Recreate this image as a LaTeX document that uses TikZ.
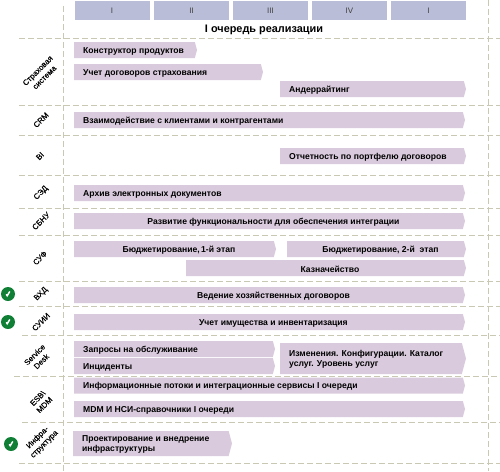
\documentclass[tikz,border=0pt]{standalone}
\usepackage{fontspec}
\setmainfont{Liberation Sans}
\newfontfamily\sysfont[FakeBold=0.5]{Liberation Sans}
\usetikzlibrary{shapes.symbols}
\definecolor{barcol}{HTML}{D9CBDD}
\definecolor{headcol}{HTML}{BABDD7}
\definecolor{dashcol}{HTML}{C9C9B3}
\definecolor{okcol}{HTML}{0F7F35}
\tikzset{
  headbox/.style={fill=headcol,minimum height=19pt,inner sep=0pt,font=\fontsize{8}{9}\selectfont,text=black!75},
  planbar/.style={fill=barcol,signal,signal to=east,signal pointer angle=150,anchor=west,inner ysep=0pt,inner xsep=0pt,outer sep=0pt},
  bartext/.style={inner sep=0pt,yshift=-1pt,font=\bfseries\fontsize{8.6}{10.5}\selectfont},
  sysname/.style={rotate=45,align=center,font=\sysfont\fontsize{7.8}{9.5}\selectfont},
  okmark/.style={circle,fill=okcol,minimum size=14pt,inner sep=0pt,path picture={
    \draw[white,line width=1.5pt,line cap=round] ([shift={(-1.6,0.6)}]path picture bounding box.center) -- ([shift={(-0.8,1.7)}]path picture bounding box.center) -- ([shift={(1.6,-2.2)}]path picture bounding box.center);}},
  gridline/.style={dashcol,line width=.8pt,dash pattern=on 6pt off 3pt}
}
% left aligned bar: #1 name, #2 left, #3 right, #4 middle, #5 height, #6 text
\newcommand{\leftbar}[6]{%
  \pgfmathsetmacro{\barw}{#3-#2}%
  \node[planbar,minimum width=\barw pt,minimum height=#5pt] (#1) at (#2,#4) {};
  \node[bartext,anchor=west,align=left] (#1t) at (#2+9,#4) {#6};}
% centred bar
\newcommand{\midbar}[6]{%
  \pgfmathsetmacro{\barw}{#3-#2}%
  \node[planbar,minimum width=\barw pt,minimum height=#5pt] (#1) at (#2,#4) {};
  \node[bartext,xshift=5pt] (#1t) at (#1.center) {#6};}
\begin{document}
\begin{tikzpicture}[x=1pt,y=-1pt]
  \useasboundingbox (0,0) rectangle (500,471);
  % сетка
  \foreach \yy/\xx in {38/19,105/19,135/19,175/19,208/19,235/19,281/19,306/19,335/22,376/14,422/22,463/19}
    \draw[gridline] (\xx,\yy) -- (500,\yy);
  \draw[gridline] (63,6) -- (63,471);
  \draw[gridline] (488,0) -- (488,471);

  % кварталы
  \node[headbox,minimum width=75pt] (q1) at (112,10.5) {I};
  \node[headbox,minimum width=75pt] (q2) at (191.5,10.5) {II};
  \node[headbox,minimum width=75pt] (q3) at (270.5,10.5) {III};
  \node[headbox,minimum width=75pt] (q4) at (349.5,10.5) {IV};
  \node[headbox,minimum width=75pt] (q5) at (428.5,10.5) {I};
  \node[font=\bfseries\fontsize{10.9}{12}\selectfont] (title) at (264,29.5) {I очередь реализации};

  % системы
  \node[sysname] (sys1) at (41,74) {Страховая\\система};
  \node[sysname] (sys2) at (41,120) {CRM};
  \node[sysname] (sys3) at (40,156) {BI};
  \node[sysname] (sys4) at (41,193) {СЭД};
  \node[sysname] (sys5) at (41,221) {СБНУ};
  \node[sysname] (sys6) at (40,258) {СУФ};
  \node[sysname] (sys7) at (41,294) {ВХД};
  \node[sysname] (sys8) at (41,322) {СУИИ};
  \node[sysname] (sys9) at (38,358) {Service\\Desk};
  \node[sysname] (sys10) at (41,401.5) {ESB\textbackslash\\MDM};
  \node[sysname] (sys11) at (41,441) {Инфра-\\структура};

  % работы
  \leftbar{konstr}{74}{197}{50}{16}{Конструктор продуктов}
  \leftbar{uchet}{74}{263}{72}{16}{Учет договоров страхования}
  \leftbar{ander}{280}{466}{89}{16}{Андеррайтинг}
  \leftbar{vzaim}{74}{465}{120}{16}{Взаимодействие с клиентами и контрагентами}
  \leftbar{otch}{280}{466}{156}{16}{Отчетность по портфелю договоров}
  \leftbar{arhiv}{74}{465}{193}{16}{Архив электронных документов}
  \midbar{razv}{74}{465}{221}{16}{Развитие функциональности для обеспечения интеграции}
  \midbar{budg1}{74}{276}{249}{16}{Бюджетирование,\,1-й этап}
  \midbar{budg2}{287}{466}{249}{16}{Бюджетирование, 2-й~ этап}
  \midbar{kazn}{186}{466}{268}{16}{Казначейство}
  \midbar{vedn}{74}{465}{295}{16}{Ведение хозяйственных договоров}
  \midbar{imush}{74}{465}{322}{16}{Учет имущества и инвентаризация}
  \leftbar{zapr}{74}{275}{349}{16}{Запросы на обслуживание}
  \leftbar{inc}{74}{275}{366}{16}{Инциденты}
  \leftbar{izm}{280}{466}{358.5}{31}{Изменения. Конфигурации. Каталог\\услуг. Уровень услуг}
  \leftbar{potok}{74}{465}{385.5}{16}{Информационные потоки и интеграционные сервисы I очереди}
  \leftbar{mdm}{74}{465}{409}{16}{MDM И НСИ-справочники I очереди}
  \leftbar{proekt}{73}{232}{443.5}{25}{Проектирование и внедрение\\инфраструктуры}

  % готово
  \node[okmark] (ok1) at (8,294) {};
  \node[okmark] (ok2) at (8,322) {};
  \node[okmark] (ok3) at (11,444) {};
\end{tikzpicture}
\end{document}
